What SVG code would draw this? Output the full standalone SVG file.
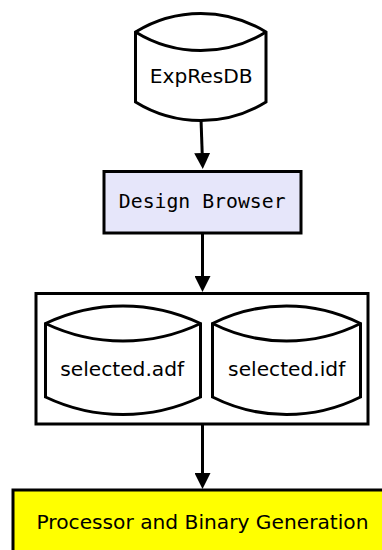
<svg xmlns="http://www.w3.org/2000/svg" width="382" height="550" viewBox="0 0 382 550">
<style>
.shape{fill:#ffffff;stroke:#000000;stroke-width:3;stroke-linejoin:miter}
.edge{fill:none;stroke:#000000;stroke-width:3}
.sans{font-family:"DejaVu Sans","Liberation Sans",sans-serif;font-size:20.2px;fill:#000000;text-anchor:middle}
.mono{font-family:"DejaVu Sans Mono","Liberation Mono",monospace;font-size:19.8px;fill:#000000;text-anchor:middle}
</style>
<defs>
<marker id="arrow" markerUnits="userSpaceOnUse" viewBox="0 0 16 16" markerWidth="16" markerHeight="16" refX="0" refY="8" orient="auto">
<path d="M0,0 L16,8 L0,16 Z" fill="#000000"/>
</marker>
</defs>
<rect width="382" height="550" fill="#ffffff"/>
<g id="connectors">
<path class="edge" d="M201,119 L202.2,153" marker-end="url(#arrow)"/>
<path class="edge" d="M202.5,233 L202.5,276" marker-end="url(#arrow)"/>
<path class="edge" d="M202.5,424 L202.5,473" marker-end="url(#arrow)"/>
</g>
<g id="ExpResDB">
<path class="shape" d="M135.5,32 A124,124 0 0 1 266,32 L266,102 A124,124 0 0 1 135.5,102 Z"/>
<path class="shape" style="fill:none" d="M135.5,32 A124,124 0 0 0 266,32"/>
<text class="sans" x="201.2" y="82.7">ExpResDB</text>
</g>
<g id="DesignBrowser">
<rect class="shape" style="fill:#e6e6fa" x="104" y="171.5" width="197" height="61.5"/>
<text class="mono" x="202.2" y="208.3">Design Browser</text>
</g>
<g id="SelectedFiles">
<rect class="shape" x="36" y="293.5" width="332" height="130.5"/>
<g id="selected_adf">
<path class="shape" d="M45.5,323.5 A180,180 0 0 1 200.5,323.5 L200.5,397 A180,180 0 0 1 45.5,397 Z"/>
<path class="shape" style="fill:none" d="M45.5,323.5 A180,180 0 0 0 200.5,323.5"/>
<text class="sans" x="122.2" y="376">selected.adf</text>
</g>
<g id="selected_idf">
<path class="shape" d="M212.5,323.5 A165,165 0 0 1 360.5,323.5 L360.5,397 A165,165 0 0 1 212.5,397 Z"/>
<path class="shape" style="fill:none" d="M212.5,323.5 A165,165 0 0 0 360.5,323.5"/>
<text class="sans" x="286.7" y="376">selected.idf</text>
</g>
</g>
<g id="ProcessorGeneration">
<rect class="shape" style="fill:#ffff00" x="13" y="490" width="400" height="100"/>
<text class="sans" x="202.5" y="529.3">Processor and Binary Generation</text>
</g>
</svg>
